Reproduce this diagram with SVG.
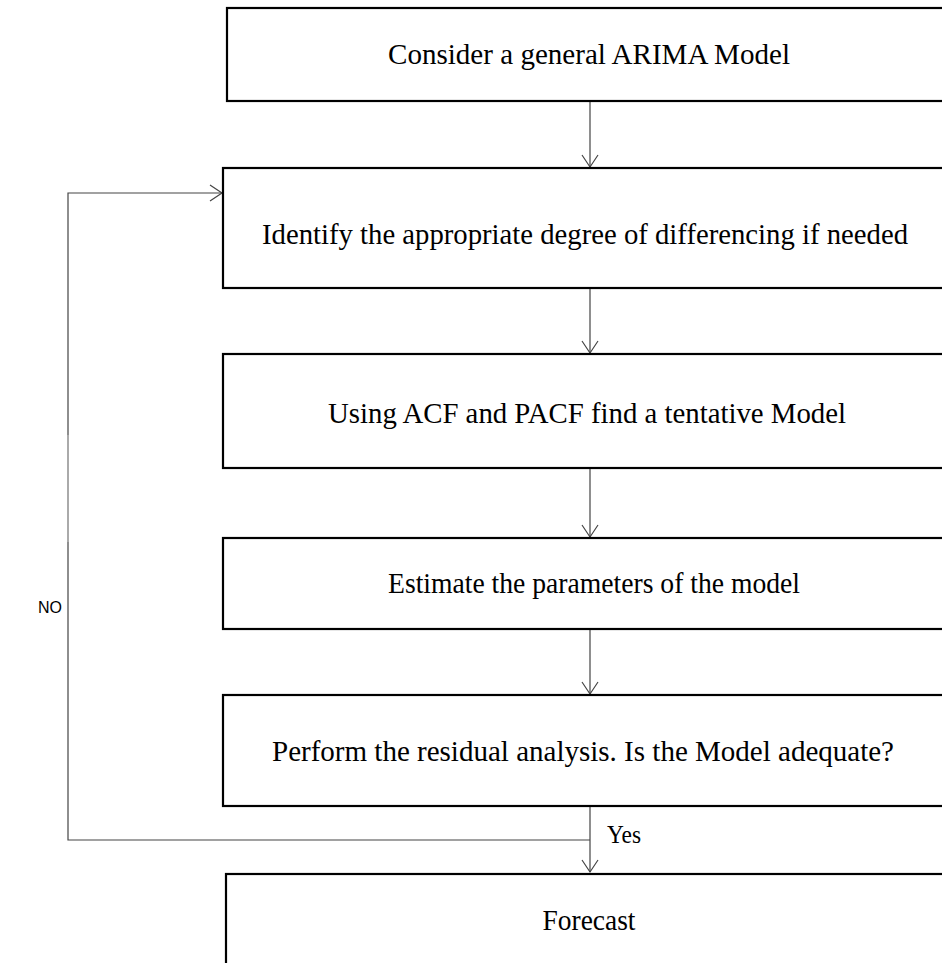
<svg xmlns="http://www.w3.org/2000/svg" width="942" height="963" viewBox="0 0 942 963">
<style>
.box{fill:#fff;stroke:#000;stroke-width:2.2}
.t{font-family:"Liberation Serif","Times New Roman",serif;font-size:29px;fill:#000;text-anchor:middle}
.c{fill:none;stroke:#444;stroke-width:1.2}
.ah{fill:none;stroke:#444;stroke-width:1.2}
</style>
<defs>
<marker id="arr" markerWidth="16" markerHeight="20" refX="13" refY="10" orient="auto" markerUnits="userSpaceOnUse">
<path d="M1,2 L13,10 L1,18" class="ah"/>
</marker>
</defs>
<rect width="942" height="963" fill="#fff"/>
<g id="connectors">
<line class="c" x1="590" y1="101" x2="590" y2="167" marker-end="url(#arr)"/>
<line class="c" x1="590" y1="288" x2="590" y2="353" marker-end="url(#arr)"/>
<line class="c" x1="590" y1="468" x2="590" y2="537" marker-end="url(#arr)"/>
<line class="c" x1="590" y1="629" x2="590" y2="694" marker-end="url(#arr)"/>
<line class="c" x1="590" y1="806" x2="590" y2="872" marker-end="url(#arr)"/>
<polyline class="c" points="590,840 68,840 68,542"/>
<line x1="68" y1="542" x2="68" y2="435" stroke="#aaa" stroke-width="2"/>
<polyline class="c" points="68,435 68,193 222,193" marker-end="url(#arr)"/>
<text x="607" y="843" font-family="Liberation Serif, Times New Roman, serif" font-size="26" textLength="34" lengthAdjust="spacingAndGlyphs">Yes</text>
<text x="38" y="613" font-family="Liberation Sans, Arial, sans-serif" font-size="16">NO</text>
</g>
<g id="n1">
<rect class="box" x="227" y="8" width="730" height="93"/>
<text class="t" x="589" y="64" textLength="402" lengthAdjust="spacingAndGlyphs">Consider  a general  ARIMA Model</text>
</g>
<g id="n2">
<rect class="box" x="223" y="168" width="734" height="120"/>
<text class="t" x="585" y="244" textLength="646" lengthAdjust="spacingAndGlyphs">Identify the appropriate  degree of differencing  if needed</text>
</g>
<g id="n3">
<rect class="box" x="223" y="354" width="734" height="114"/>
<text class="t" x="587" y="423" textLength="518" lengthAdjust="spacingAndGlyphs">Using ACF and PACF find a tentative Model</text>
</g>
<g id="n4">
<rect class="box" x="223" y="538" width="734" height="91"/>
<text class="t" x="594" y="593" textLength="412" lengthAdjust="spacingAndGlyphs">Estimate the parameters  of the model</text>
</g>
<g id="n5">
<rect class="box" x="223" y="695" width="734" height="111"/>
<text class="t" x="583" y="761" textLength="622" lengthAdjust="spacingAndGlyphs">Perform the residual analysis.  Is the Model adequate?</text>
</g>
<g id="n6">
<rect class="box" x="226" y="874" width="730" height="100"/>
<text class="t" x="589" y="930" textLength="93" lengthAdjust="spacingAndGlyphs">Forecast</text>
</g>
</svg>
